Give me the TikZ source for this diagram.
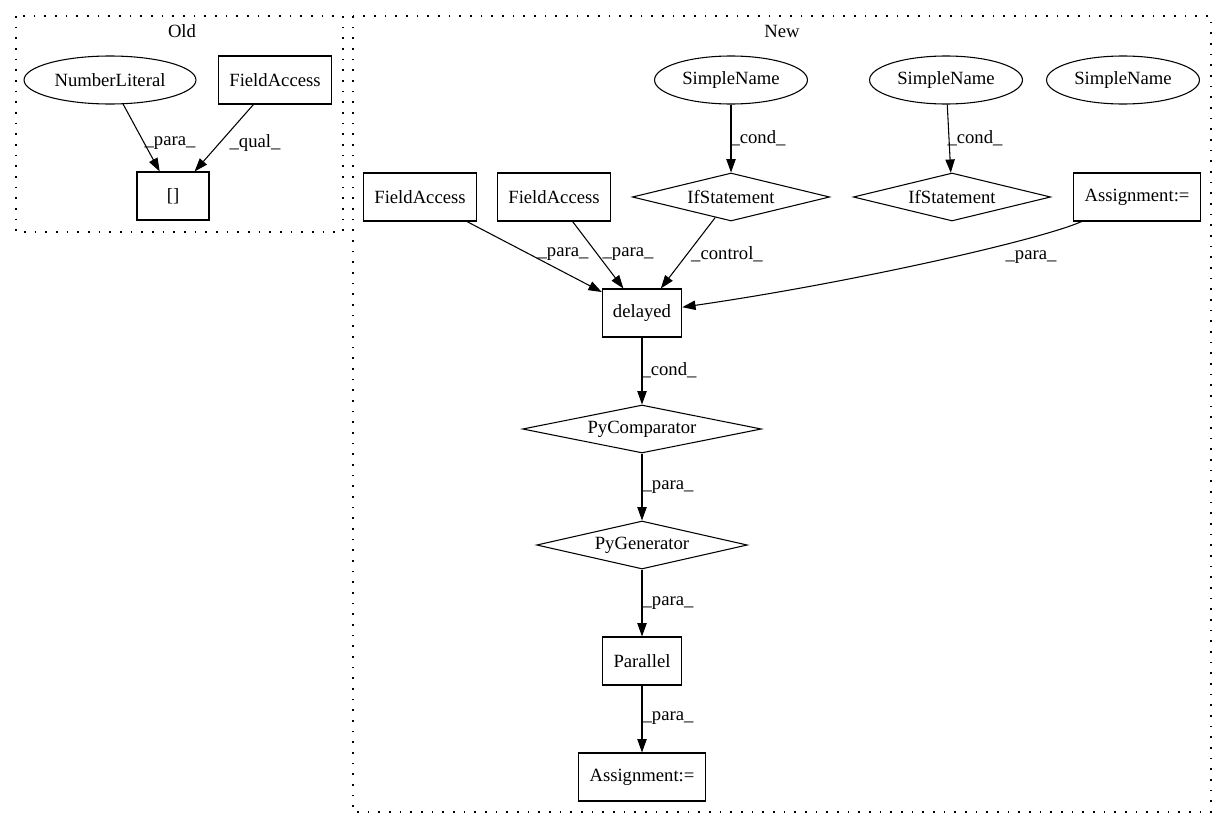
\documentclass[tikz,border=0pt]{standalone}
\usepackage{fontspec}
\setmainfont{Liberation Serif}
\usetikzlibrary{shapes.geometric, arrows.meta}

\tikzset{
  every node/.style={font=\fontsize{14}{16}\selectfont},
  box/.style={draw, rectangle, line width=0.8pt, minimum width=54pt, minimum height=36pt, inner xsep=8pt},
  ell/.style={draw, ellipse, line width=0.8pt, minimum height=36pt, inner xsep=4pt},
  cond/.style={draw, diamond, aspect=4, line width=0.8pt, minimum height=36pt, inner sep=0pt},
  lbl/.style={inner sep=0pt},
  cluster/.style={line width=0.8pt, dash pattern=on 1.2pt off 6.8pt},
}

\begin{document}
\begin{tikzpicture}[x=0.75pt, y=-0.75pt, >={Triangle[length=10pt, width=7pt]}, line width=0.8pt]
    \useasboundingbox (0,0) rectangle (1227,828);

    % old version
    \draw[cluster] (16,16) rectangle (343,232);
    \node (oldtitle) at (182,31) {Old};

    \node[ell] (numlit) at (110,80) {NumberLiteral};
    \node[box] (fieldold) at (275,80) {FieldAccess};
    \node[box] (brackets) at (173,196) {[]};

    \draw[->] (numlit) -- (brackets);
    \draw[->] (fieldold) -- (brackets);
    \node[lbl] (lpara0) at (170,143) {\_para\_};
    \node[lbl] (lqual0) at (255,143) {\_qual\_};

    % new version
    \draw[cluster] (353,16) rectangle (1211,812);
    \node (newtitle) at (782,31) {New};

    \node[ell] (sname1) at (731,80) {SimpleName};
    \node[ell] (sname2) at (946,80) {SimpleName};
    \node[ell] (sname3) at (1123,80) {SimpleName};

    \node[box] (facc1) at (420,197) {FieldAccess};
    \node[box] (facc2) at (554,197) {FieldAccess};
    \node[cond, minimum width=148pt] (ifst1) at (731,197) {IfStatement};
    \node[cond, minimum width=148pt] (ifst2) at (952,197) {IfStatement};
    \node[box] (assign1) at (1137,197) {Assignment:=};

    \node[box] (delayed) at (642,313) {delayed};
    \node[cond, minimum width=179pt] (pycomp) at (642,429) {PyComparator};
    \node[cond, minimum width=158pt] (pygen) at (642,545) {PyGenerator};
    \node[box] (parallel) at (642,661) {Parallel};
    \node[box] (assign2) at (642,777) {Assignment:=};

    \draw[->] (sname1) -- (ifst1);
    \node[lbl] (lcond1) at (758,138) {\_cond\_};
    \draw[->] (sname2) -- (ifst2);
    \node[lbl] (lcond2) at (975,138) {\_cond\_};

    \draw[->] (facc1) -- (delayed);
    \node[lbl] (lpara1) at (563,254) {\_para\_};
    \draw[->] (facc2) -- (delayed);
    \node[lbl] (lpara2) at (628,254) {\_para\_};
    \draw[->] (ifst1) -- (delayed);
    \node[lbl] (lctrl) at (727,254) {\_control\_};
    \draw[->] (assign1) .. controls (1040,240) and (850,283) .. (delayed);
    \node[lbl] (lpara3) at (1031,257) {\_para\_};

    \draw[->] (delayed) -- (pycomp);
    \node[lbl] (lcond3) at (669,370) {\_cond\_};
    \draw[->] (pycomp) -- (pygen);
    \node[lbl] (lpara4) at (668,487) {\_para\_};
    \draw[->] (pygen) -- (parallel);
    \node[lbl] (lpara5) at (668,603) {\_para\_};
    \draw[->] (parallel) -- (assign2);
    \node[lbl] (lpara6) at (668,718) {\_para\_};
  \end{tikzpicture}
\end{document}
